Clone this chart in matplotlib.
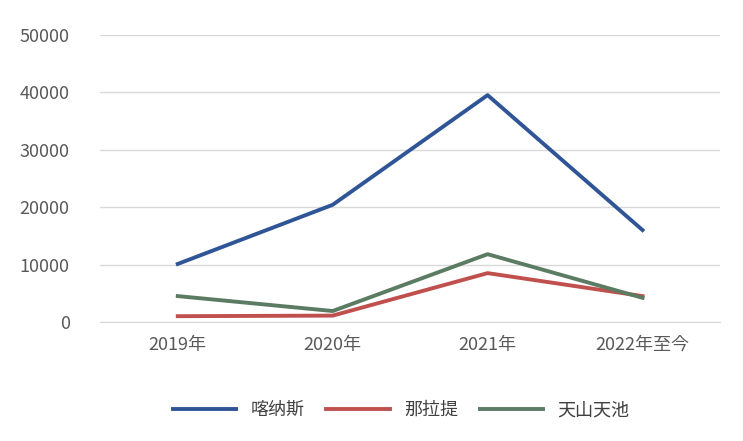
import matplotlib
matplotlib.use("Agg")
import matplotlib.pyplot as plt
from matplotlib import font_manager as fm

names = [f.name for f in fm.fontManager.ttflist if "CJK" in f.name]
cjk = "Noto Sans CJK SC" if "Noto Sans CJK SC" in names else (names[0] if names else "DejaVu Sans")
plt.rcParams['font.family'] = 'sans-serif'
plt.rcParams['font.sans-serif'] = [cjk, 'DejaVu Sans']

categories = ["2019年", "2020年", "2021年", "2022年至今"]
kanas = [10100, 20400, 39500, 16000]
nalati = [1000, 1100, 8500, 4500]
tianchi = [4500, 1900, 11800, 4200]

fig = plt.figure(figsize=(7.43, 4.41), dpi=100)
ax = fig.add_axes([0.135, 0.27, 0.834, 0.651])
x = range(len(categories))
ax.plot(x, kanas, color="#2F5597", lw=2.8, label="喀纳斯")
ax.plot(x, nalati, color="#C0504D", lw=2.8, label="那拉提")
ax.plot(x, tianchi, color="#5B7B63", lw=2.8, label="天山天池")
ax.set_xlim(-0.5, 3.5)
ax.set_ylim(0, 50000)
ax.set_yticks(range(0, 50001, 10000))
ax.set_xticks(list(x))
ax.set_xticklabels(categories)
ax.grid(axis='y', color="#d9d9d9", lw=1)
ax.set_axisbelow(True)
for s in ["top", "right", "left"]:
    ax.spines[s].set_visible(False)
ax.spines["bottom"].set_color("#d9d9d9")
ax.tick_params(length=0, labelsize=13, colors="#595959", pad=10)
ax.tick_params(axis='y', pad=22)
fig.legend(loc="center", bbox_to_anchor=(0.54, 0.07), ncol=3, frameon=False,
           fontsize=13, handlelength=3.5, columnspacing=1.2, labelcolor="#404040")
fig.savefig("out.png")
